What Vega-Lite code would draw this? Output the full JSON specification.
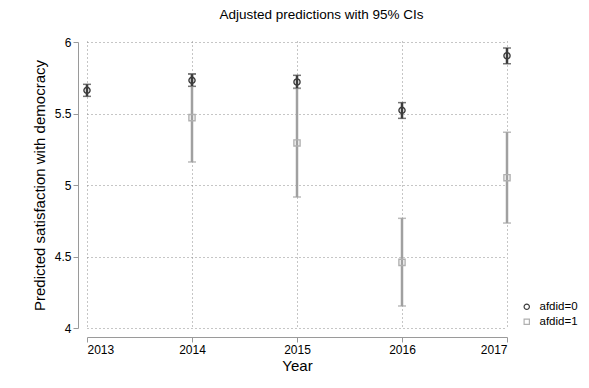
{
  "$schema": "https://vega.github.io/schema/vega-lite/v6.json",
  "autosize": {"type": "none"},
  "width": 435,
  "height": 299,
  "padding": {"left": 80, "top": 35, "right": 74, "bottom": 54},
  "background": "white",
  "title": {
    "text": "Adjusted predictions with 95% CIs",
    "font": "Liberation Sans",
    "fontSize": 13.5,
    "fontWeight": "normal",
    "color": "#000000",
    "anchor": "middle",
    "dx": 24,
    "offset": 14
  },
  "data": {
    "values": [
      {"year": 2014, "group": "afdid=1", "margin": 5.471, "lo": 5.161, "hi": 5.778},
      {"year": 2015, "group": "afdid=1", "margin": 5.294, "lo": 4.916, "hi": 5.676},
      {"year": 2016, "group": "afdid=1", "margin": 4.459, "lo": 4.154, "hi": 4.767},
      {"year": 2017, "group": "afdid=1", "margin": 5.051, "lo": 4.734, "hi": 5.369},
      {"year": 2013, "group": "afdid=0", "margin": 5.662, "lo": 5.620, "hi": 5.704},
      {"year": 2014, "group": "afdid=0", "margin": 5.732, "lo": 5.690, "hi": 5.776},
      {"year": 2015, "group": "afdid=0", "margin": 5.720, "lo": 5.676, "hi": 5.767},
      {"year": 2016, "group": "afdid=0", "margin": 5.522, "lo": 5.466, "hi": 5.576},
      {"year": 2017, "group": "afdid=0", "margin": 5.904, "lo": 5.848, "hi": 5.958}
    ]
  },
  "encoding": {
    "x": {
      "field": "year",
      "type": "quantitative",
      "scale": {"domain": [2013, 2017], "range": [7, 427], "nice": false, "zero": false},
      "axis": {
        "title": "Year",
        "values": [2013, 2014, 2015, 2016, 2017],
        "format": "d",
        "offset": 3,
        "grid": true,
        "gridDash": [1, 3],
        "gridColor": "#8c8c8c",
        "gridWidth": 1,
        "domainColor": "#9a9a9a",
        "tickColor": "#9a9a9a",
        "tickSize": 5,
        "labelFont": "Liberation Sans",
        "labelFontSize": 12,
        "labelColor": "#000000",
        "labelPadding": 2,
        "titleFont": "Liberation Sans",
        "titleFontSize": 15,
        "titleFontWeight": "normal",
        "titleColor": "#000000",
        "titlePadding": 3
      }
    },
    "y": {
      "type": "quantitative",
      "scale": {"domain": [4, 6], "range": [293, 7], "nice": false, "zero": false},
      "axis": {
        "title": "Predicted satisfaction with democracy",
        "values": [4, 4.5, 5, 5.5, 6],
        "format": "~g",
        "offset": 2,
        "grid": true,
        "gridDash": [1, 3],
        "gridColor": "#8c8c8c",
        "gridWidth": 1,
        "domainColor": "#9a9a9a",
        "tickColor": "#9a9a9a",
        "tickSize": 5,
        "labelFont": "Liberation Sans",
        "labelFontSize": 12,
        "labelColor": "#000000",
        "labelPadding": 2,
        "titleFont": "Liberation Sans",
        "titleFontSize": 15,
        "titleFontWeight": "normal",
        "titleColor": "#000000",
        "titlePadding": 7
      }
    }
  },
  "layer": [
    {
      "mark": {"type": "errorbar", "ticks": {"size": 8, "thickness": 1.5}, "thickness": 2.5},
      "encoding": {
        "y": {"field": "lo", "type": "quantitative"},
        "y2": {"field": "hi"},
        "color": {
          "field": "group",
          "type": "nominal",
          "scale": {"domain": ["afdid=0", "afdid=1"], "range": ["#3c3c3c", "#a0a0a0"]},
          "legend": null
        }
      }
    },
    {
      "mark": {"type": "point", "filled": false, "strokeWidth": 1.4, "size": 38, "opacity": 1},
      "encoding": {
        "y": {"field": "margin", "type": "quantitative"},
        "stroke": {
          "field": "group",
          "type": "nominal",
          "scale": {"domain": ["afdid=0", "afdid=1"], "range": ["#3c3c3c", "#b0b0b0"]}
        },
        "shape": {
          "field": "group",
          "type": "nominal",
          "scale": {"domain": ["afdid=0", "afdid=1"], "range": ["circle", "square"]},
          "legend": {
            "title": null,
            "orient": "none",
            "legendX": 441,
            "legendY": 266,
            "symbolSize": 28,
            "symbolStrokeWidth": 1.2,
            "symbolFillColor": "transparent",
            "labelFont": "Liberation Sans",
            "labelFontSize": 11.5,
            "labelColor": "#000000",
            "rowPadding": 2,
            "labelOffset": 7
          }
        }
      }
    }
  ],
  "resolve": {"scale": {"color": "independent"}},
  "config": {
    "view": {"stroke": null},
    "axis": {"domainWidth": 1, "tickWidth": 1}
  }
}
